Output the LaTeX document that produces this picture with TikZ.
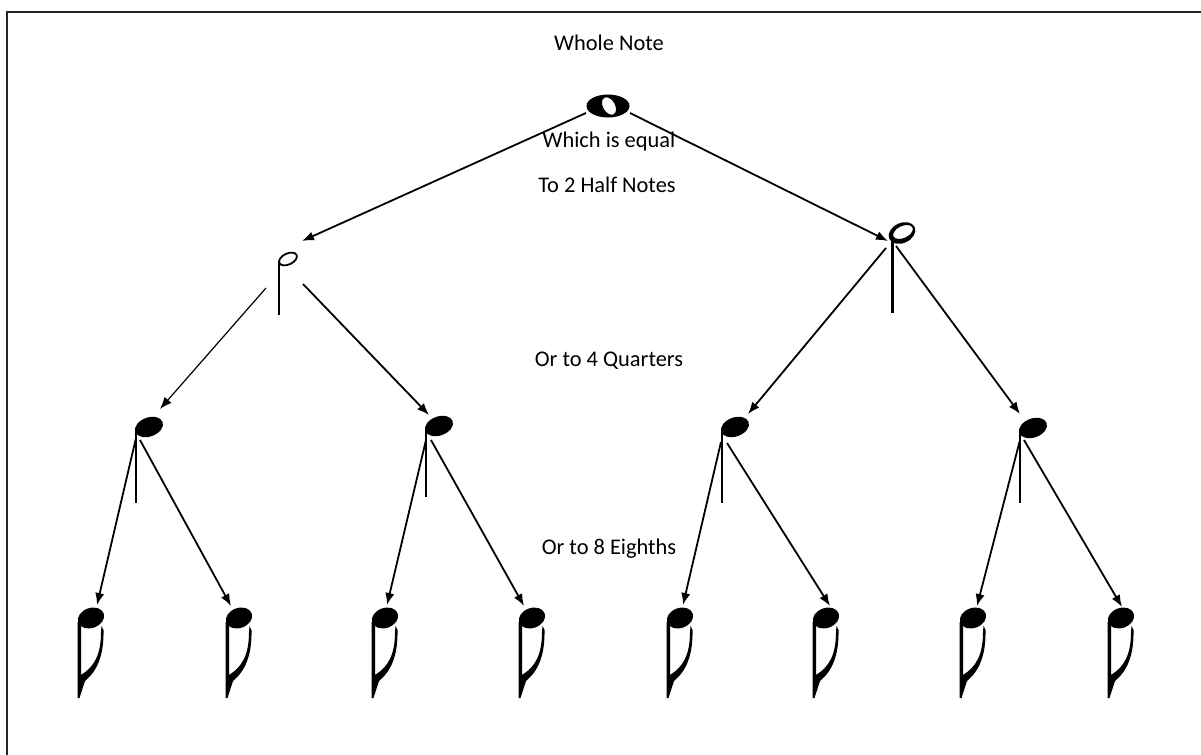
\documentclass[tikz,border=0pt]{standalone}
\usepackage{fontspec}
\setmainfont{Carlito}
\usetikzlibrary{arrows.meta}
\begin{document}
\begin{tikzpicture}[x=0.5pt,y=-0.5pt,
  arr/.style={-{Latex[length=6pt,width=4.6pt]},line width=0.9pt},
  lbl/.style={font=\fontsize{11.2}{13}\selectfont,inner sep=0pt},
  frame/.style={line width=1pt,draw=black!85},
  wholenote/.pic={
    \fill[even odd rule] (0,0) ellipse[x radius=21.5,y radius=11.5]
      (1,0) ellipse[x radius=6,y radius=9.5,rotate=30];
  },
  halfsmall/.pic={
    \draw[line width=0.9pt] (0,0) ellipse[x radius=9.5,y radius=5.5,rotate=25];
    \fill (-10.5,2) rectangle (-8.5,56);
  },
  halfbig/.pic={
    \fill[even odd rule] (0,0) ellipse[x radius=14,y radius=10,rotate=25]
      (1,-1) ellipse[x radius=10.5,y radius=6,rotate=25];
    \fill (-11.5,4) rectangle (-8.5,80);
  },
  quarter/.pic={
    \fill (0,0) ellipse[x radius=14.5,y radius=9.5,rotate=20];
    \fill (-14.5,2) rectangle (-12,#1);
  },
  eighth/.pic={
    \fill (0,0) ellipse[x radius=13.5,y radius=10,rotate=20];
    \fill (-13.5,80) -- (-13.5,4) -- (-10,4) -- (-10,57)
      .. controls (3,49) and (10,37) .. (10,14) -- (10.5,8) -- (12.5,12)
      .. controls (13,38) and (6,53) .. (-6,63) -- (-11.5,80) -- cycle;
  }]
\useasboundingbox (0,0) rectangle (1201,755);
% frame
\draw[frame] (7,755) -- (7,11.5) -- (1201,11.5);

% labels
\node[lbl] (t1) at (609,43) {Whole Note};
\node[lbl] (t2) at (609,142) {Which is equal};
\node[lbl] (t3) at (607,185) {To 2 Half Notes};
\node[lbl] (t4) at (609,361) {Or to 4 Quarters};
\node[lbl] (t5) at (609,549) {Or to 8 Eighths};

% notes
\pic (w) at (608,106) {wholenote};
\pic (h1) at (288,259) {halfsmall};
\pic (h2) at (902,233) {halfbig};
\pic (q1) at (149,427) {quarter=76};
\pic (q2) at (439,426) {quarter=71};
\pic (q3) at (735,427) {quarter=76};
\pic (q4) at (1033,428) {quarter=75};
\foreach \x [count=\i] in {91,239,385,532,680,826,973,1121}
  \pic (e\i) at (\x,618) {eighth};

% connector end points
\coordinate (wl) at (586,113);   \coordinate (hl)  at (302,241);
\coordinate (wr) at (630,113);   \coordinate (hr)  at (888,241);
\coordinate (hl1) at (266,288);  \coordinate (q1t) at (160,409);
\coordinate (hl2) at (303,284);  \coordinate (q2t) at (429,415);
\coordinate (hr1) at (886,248);  \coordinate (q3t) at (748,414);
\coordinate (hr2) at (896,246);  \coordinate (q4t) at (1020,414);
\coordinate (q1a) at (136,438);  \coordinate (e1t) at (97,605);
\coordinate (q1b) at (140,440);  \coordinate (e2t) at (231,606);
\coordinate (q2a) at (426,440);  \coordinate (e3t) at (387,605);
\coordinate (q2b) at (431,440);  \coordinate (e4t) at (524,606);
\coordinate (q3a) at (721,442);  \coordinate (e5t) at (683,605);
\coordinate (q3b) at (727,443);  \coordinate (e6t) at (830,606);
\coordinate (q4a) at (1020,440); \coordinate (e7t) at (977,606);
\coordinate (q4b) at (1024,440); \coordinate (e8t) at (1122,607);

% connectors
\draw[arr] (wl) -- (hl);
\draw[arr] (wr) -- (hr);
\draw[arr,line width=0.6pt] (hl1) -- (q1t);
\draw[arr] (hl2) -- (q2t);
\draw[arr] (hr1) -- (q3t);
\draw[arr] (hr2) -- (q4t);
\draw[arr] (q1a) -- (e1t);
\draw[arr] (q1b) -- (e2t);
\draw[arr] (q2a) -- (e3t);
\draw[arr] (q2b) -- (e4t);
\draw[arr] (q3a) -- (e5t);
\draw[arr] (q3b) -- (e6t);
\draw[arr] (q4a) -- (e7t);
\draw[arr] (q4b) -- (e8t);
\end{tikzpicture}
\end{document}
